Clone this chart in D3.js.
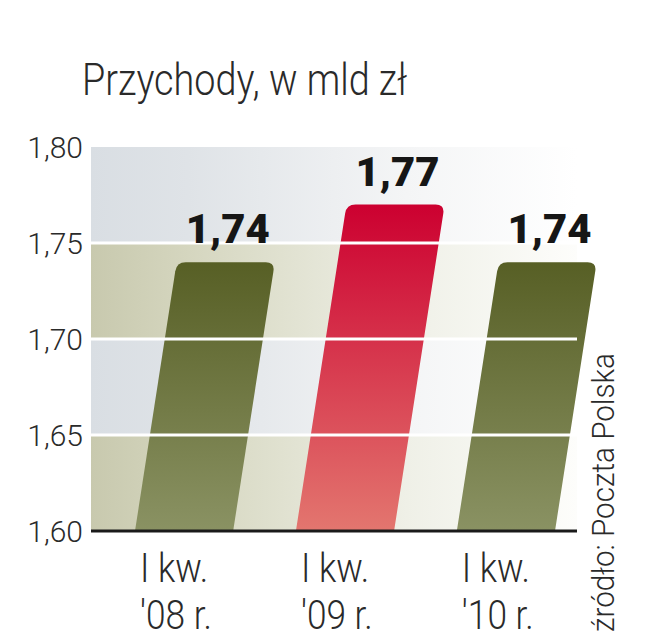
<!DOCTYPE html>
<html>
<head>
<meta charset="utf-8">
<script src="https://cdn.jsdelivr.net/npm/d3@7"></script>
<style>
  html, body { margin: 0; padding: 0; background: #fff; }
  svg { display: block; }
  .title, .tick text, .cat { font-family: Roboto, 'Open Sans', sans-serif; font-weight: 300; fill: #2a2a2a; }
  .value { font-family: Roboto, 'DejaVu Sans', sans-serif; font-weight: 900; fill: #161616; }
</style>
</head>
<body>
<div id="chart"></div>
<script>
// values
const quarters = ['I kw.', 'I kw.', 'I kw.'];
const years = ["'08 r.", "'09 r.", "'10 r."];
const revenue = [1.74, 1.77, 1.74];
const tones = ['green', 'red', 'green'];
const yTicks = [1.60, 1.65, 1.70, 1.75, 1.80];
const title = 'Przychody, w mld zł';
const source = 'źródło: Poczta Polska';

const pl = d3.formatLocale({ decimal: ',', thousands: ' ', grouping: [3], currency: ['', ' zł'] });
const fmt = pl.format('.2f');

const W = 648;
const H = 640;
const plot = { left: 91, right: 577, top: 147, bottom: 531 };
const slant = 0.155;

const svg = d3.select('#chart').append('svg')
  .attr('width', W)
  .attr('height', H);

const defs = svg.append('defs');

const barGrad = {
  green: ['#575f25', '#8a9263'],
  red: ['#cc0030', '#e3766f'],
};
Object.keys(barGrad).forEach((k) => {
  const g = defs.append('linearGradient')
    .attr('id', `bar-${k}`)
    .attr('x1', 0).attr('y1', 0).attr('x2', 0).attr('y2', 1);
  g.append('stop').attr('offset', 0).attr('stop-color', barGrad[k][0]);
  g.append('stop').attr('offset', 1).attr('stop-color', barGrad[k][1]);
});

// horizontal fades, strong on the left, close to white past the middle
const bandGrad = {
  grey: ['#d9dee3', '#dfe3e7', '#f4f5f6', '#ffffff'],
  beige: ['#c8c9ae', '#d5d6bf', '#eff0e7', '#fdfdfb'],
};
const bandStops = [0, 0.2, 0.65, 1];
Object.keys(bandGrad).forEach((k) => {
  const g = defs.append('linearGradient')
    .attr('id', `band-${k}`)
    .attr('gradientUnits', 'userSpaceOnUse')
    .attr('x1', plot.left).attr('y1', 0).attr('x2', plot.right).attr('y2', 0);
  bandStops.forEach((o, i) => {
    g.append('stop').attr('offset', o).attr('stop-color', bandGrad[k][i]);
  });
});

const y = d3.scaleLinear()
  .domain([yTicks[0], yTicks[yTicks.length - 1]])
  .range([plot.bottom, plot.top]);

// bars start at the bottom-left of each band and lean to the right
const x = d3.scaleBand()
  .domain(years)
  .range([135, 555])
  .paddingInner(0.39)
  .paddingOuter(0);

// background bands, alternating beige / grey from the bottom
const bands = d3.pairs(yTicks);
svg.selectAll('.band')
  .data(bands)
  .enter().append('rect')
  .attr('class', 'band')
  .attr('x', plot.left)
  .attr('width', plot.right - plot.left)
  .attr('y', d => y(d[1]))
  .attr('height', d => y(d[0]) - y(d[1]))
  .attr('fill', (d, i) => (i % 2 === 0 ? 'url(#band-beige)' : 'url(#band-grey)'));

function barPath(d, i) {
  const r = 9;
  const x0 = x(years[i]);
  const w = x.bandwidth();
  const y0 = y(yTicks[0]);
  const yt = y(d);
  const tl = x0 + slant * (y0 - yt);
  const tr = tl + w;
  return `M${x0},${y0}`
    + `L${tl - slant * r},${yt + r}`
    + `Q${tl},${yt} ${tl + r},${yt}`
    + `L${tr - r},${yt}`
    + `Q${tr},${yt} ${tr - slant * r},${yt + r}`
    + `L${x0 + w},${y0}Z`;
}

svg.selectAll('.bar')
  .data(revenue)
  .enter().append('path')
  .attr('class', 'bar')
  .attr('d', barPath)
  .attr('fill', (d, i) => `url(#bar-${tones[i]})`);

// white grid lines sit on top of the bars
svg.selectAll('.grid')
  .data(yTicks.slice(1, -1))
  .enter().append('line')
  .attr('class', 'grid')
  .attr('x1', plot.left)
  .attr('x2', plot.right)
  .attr('y1', d => y(d))
  .attr('y2', d => y(d))
  .attr('stroke', '#fff')
  .attr('stroke-width', 3);

svg.append('line')
  .attr('x1', plot.left)
  .attr('x2', plot.right)
  .attr('y1', y(yTicks[0]))
  .attr('y2', y(yTicks[0]))
  .attr('stroke', '#1a1a1a')
  .attr('stroke-width', 3);

const yAxis = svg.append('g')
  .attr('transform', 'translate(83,0)')
  .call(d3.axisLeft(y).tickValues(yTicks).tickFormat(fmt).tickSize(0).tickPadding(0));
yAxis.select('.domain').remove();
yAxis.selectAll('text')
  .attr('font-size', 30)
  .attr('dy', '0.36em')
  .style('font-family', 'Roboto, sans-serif');

// value labels over each bar
svg.selectAll('.value')
  .data(revenue)
  .enter().append('text')
  .attr('class', 'value')
  .attr('text-anchor', 'middle')
  .attr('font-size', 41)
  .attr('textLength', 84)
  .attr('lengthAdjust', 'spacingAndGlyphs')
  .attr('x', (d, i) => x(years[i]) + slant * (y(yTicks[0]) - y(d)) + x.bandwidth() / 2 + 2)
  .attr('y', d => y(d) - 19)
  .text(d => fmt(d));

// two-line category labels
const cats = svg.selectAll('.cat')
  .data(years)
  .enter().append('g')
  .attr('class', 'cat')
  .attr('transform', d => `translate(${x(d) + 5},0) scale(0.86,1)`);

cats.append('text')
  .attr('y', 582)
  .attr('font-size', 41)
  .text((d, i) => quarters[i]);

cats.append('text')
  .attr('y', 629)
  .attr('font-size', 41)
  .text(d => d);

svg.append('text')
  .attr('class', 'title')
  .attr('x', 82)
  .attr('y', 95)
  .attr('font-size', 44)
  .attr('textLength', 325)
  .attr('lengthAdjust', 'spacingAndGlyphs')
  .text(title);

svg.append('text')
  .attr('class', 'title')
  .attr('transform', 'translate(614,632) rotate(-90)')
  .attr('font-size', 31)
  .attr('textLength', 279)
  .attr('lengthAdjust', 'spacingAndGlyphs')
  .text(source);
</script>
</body>
</html>
